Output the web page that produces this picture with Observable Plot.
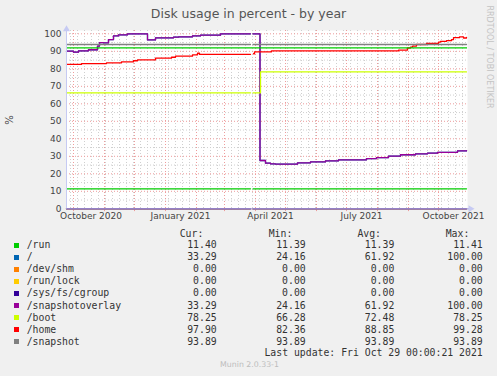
<!DOCTYPE html>
<html><head><meta charset="utf-8">
<script src="https://cdn.jsdelivr.net/npm/d3@7"></script>
<script src="https://cdn.jsdelivr.net/npm/@observablehq/plot@0.6"></script>
<style>
html,body{margin:0;padding:0;background:#f0f0f0;}
#wrap{position:relative;width:497px;height:376px;overflow:hidden;background:#f0f0f0;font-family:"DejaVu Sans";}
#wrap svg{position:absolute;left:0;top:0;}
.t{position:absolute;white-space:pre;}
.mono{font-family:"DejaVu Sans Mono";font-size:9.8px;line-height:12px;color:#333;}
</style></head><body><div id="wrap"></div>
<script>
// ---------- text ----------
const title = "Disk usage in percent - by year";
const yLabel = "%";
const sideNote = "RRDTOOL / TOBI OETIKER";
const footer = "Munin 2.0.33-1";
const lastUpdate = "Last update: Fri Oct 29 00:00:21 2021";
const headers = ["Cur:", "Min:", "Avg:", "Max:"];

// ---------- axes ----------
const xDomain = ["2020-09-24", "2021-10-30"];
const yTicks = [0, 10, 20, 30, 40, 50, 60, 70, 80, 90, 100];
const yMinorTicks = [5, 15, 25, 35, 45, 55, 65, 75, 85, 95];
const xTickDates = ["2020-10-18T12:00Z", "2021-01-16", "2021-04-16", "2021-07-16", "2021-10-16"];
const xTickLabels = ["October 2020", "January 2021", "April 2021", "July 2021", "October 2021"];
const warningLevel = 92;

// ---------- legend ----------
const names = ["/run", "/", "/dev/shm", "/run/lock", "/sys/fs/cgroup", "/snapshotoverlay", "/boot", "/home", "/snapshot"];
const colors = ["#00cc00", "#0066b3", "#ff8000", "#ffcc00", "#330099", "#990099", "#ccff00", "#ff0000", "#808080"];
const curValues = ["11.40", "33.29", "0.00", "0.00", "0.00", "33.29", "78.25", "97.90", "93.89"];
const minValues = ["11.39", "24.16", "0.00", "0.00", "0.00", "24.16", "66.28", "82.36", "93.89"];
const avgValues = ["11.39", "61.92", "0.00", "0.00", "0.00", "61.92", "72.48", "88.85", "93.89"];
const maxValues = ["11.41", "100.00", "0.00", "0.00", "0.00", "100.00", "78.25", "99.28", "93.89"];

// ---------- series (date, percent); null = no data ----------
const runSeries = [["2020-09-24", 11.4], ["2021-03-27", 11.39], ["2021-03-28", null], ["2021-03-29T12:00Z", 11.4], ["2021-10-29", 11.4]];
const overlaySeries = [
  ["2020-09-24", 90.1], ["2020-10-01", 89.5], ["2020-10-06", 90.3], ["2020-10-16", 90.9], ["2020-10-25", 93.0],
  ["2020-10-27", 95.0], ["2020-10-31", 94.8], ["2020-11-05", 96.7], ["2020-11-10", 98.8], ["2020-11-15", 99.4],
  ["2020-11-24", 100], ["2020-12-14", 96.5], ["2020-12-22", 97.7], ["2021-01-09", 98.1], ["2021-01-14", 98.3],
  ["2021-01-28", 98.8], ["2021-02-05", 99.2], ["2021-02-25", 100], ["2021-03-27", 100], ["2021-03-28", null],
  ["2021-03-29T12:00Z", 100], ["2021-04-05T12:00Z", 27.6], ["2021-04-11", 26.1], ["2021-04-16", 25.7],
  ["2021-04-21", 25.5], ["2021-05-13", 26.3], ["2021-05-26", 26.8], ["2021-06-10", 27.4], ["2021-06-23", 28.0],
  ["2021-07-21", 28.7], ["2021-07-31", 29.3], ["2021-08-12", 30.1], ["2021-08-24", 30.9], ["2021-09-08", 31.4],
  ["2021-09-20", 31.8], ["2021-09-30", 32.3], ["2021-10-20", 33.1], ["2021-10-29", 33.29]
];
const rootSeries = overlaySeries; // "/" reads identical to /snapshotoverlay
const shmSeries = [["2020-09-24", 0], ["2021-03-27", 0], ["2021-03-28", null], ["2021-03-29T12:00Z", 0], ["2021-10-29", 0]];
const lockSeries = [["2020-09-24", 0], ["2021-03-27", 0], ["2021-03-28", null], ["2021-03-29T12:00Z", 0], ["2021-10-29", 0]];
const cgroupSeries = [["2020-09-24", 0], ["2021-03-27", 0], ["2021-03-28", null], ["2021-03-29T12:00Z", 0], ["2021-10-29", 0]];
const bootSeries = [["2020-09-24", 66.28], ["2021-03-27", 66.28], ["2021-03-28", null], ["2021-03-29T12:00Z", 66.28], ["2021-04-06", 78.25], ["2021-10-29", 78.25]];
const homeSeries = [
  ["2020-09-24", 82.5], ["2020-10-09", 83.0], ["2020-11-03", 83.4], ["2020-11-18", 84.0], ["2020-11-30", 84.6],
  ["2020-12-04", 85.1], ["2020-12-22", 86.1], ["2021-01-07", 86.6], ["2021-01-11", 87.2], ["2021-01-28", 88.0],
  ["2021-02-02", 88.9], ["2021-02-04", 88.2], ["2021-03-27", 88.2], ["2021-03-28", null], ["2021-03-30", 88.6],
  ["2021-03-31", 89.7], ["2021-04-17", 90.2], ["2021-08-22", 90.7], ["2021-08-31", 91.9], ["2021-09-03", 92.4],
  ["2021-09-05", 93.0], ["2021-09-09", 93.9], ["2021-09-19", 94.5], ["2021-10-01", 95.3], ["2021-10-03", 95.7],
  ["2021-10-09", 96.1], ["2021-10-14", 96.7], ["2021-10-16", 97.8], ["2021-10-22", 98.3], ["2021-10-26", 97.6],
  ["2021-10-29", 97.9]
];
const snapshotSeries = [["2020-09-24", 93.89], ["2021-03-27", 93.89], ["2021-03-28", null], ["2021-03-29T12:00Z", 93.89], ["2021-10-29", 93.89]];

const allSeries = [runSeries, rootSeries, shmSeries, lockSeries, cgroupSeries, overlaySeries, bootSeries, homeSeries, snapshotSeries];

// ---------- build ----------
const x0 = new Date(xDomain[0]), x1 = new Date(xDomain[1]);
const toRows = s => s.map(([d, v]) => ({date: new Date(d), value: v == null ? NaN : v}));
const labelByTime = new Map(xTickDates.map((d, i) => [+new Date(d), xTickLabels[i]]));
const weeks = d3.utcMonday.range(x0, x1);
const months = d3.utcMonth.range(x0, x1);
const axisBlue = "#c6caf3";
const axisBottom = "#a59ee2";
const gridGray = "#cfcfcf";
const gridRed = "#ee9c9c";
const arrowX = d3.utcDay.offset(x1, 3);

const lineMarks = allSeries.map((s, i) =>
  Plot.line(toRows(s), {x: "date", y: "value", stroke: colors[i], strokeWidth: 1.3, curve: "step-after"}));

const chart = Plot.plot({
  width: 497, height: 376,
  marginLeft: 66, marginRight: 30, marginTop: 30, marginBottom: 167.7,
  x: {type: "utc", domain: [x0, x1]},
  y: {domain: [0, 101.9]},
  style: {background: "transparent", fontFamily: "DejaVu Sans", fontSize: "9px", color: "#444"},
  marks: [
    Plot.frame({fill: "white", stroke: null}),
    Plot.ruleY(yMinorTicks, {stroke: gridGray, strokeDasharray: "1,2"}),
    Plot.ruleX(weeks, {stroke: gridGray, strokeDasharray: "1,2"}),
    Plot.ruleY(yTicks, {stroke: gridRed, strokeDasharray: "1,2"}),
    Plot.ruleX(months, {stroke: gridRed, strokeDasharray: "1,2"}),
    Plot.ruleX(months, {y1: 0, y2: -1.6, stroke: gridRed}),
    ...lineMarks,
    Plot.ruleY([warningLevel], {stroke: "#00cc00", strokeWidth: 1.3}),
    Plot.ruleY([0], {x1: x0, x2: arrowX, stroke: axisBottom, strokeWidth: 1.3}),
    Plot.ruleX([x0], {y1: 0, y2: 102.6, stroke: axisBlue, strokeWidth: 1}),
    Plot.dot([x0], {x: d => d, y: [102.6], symbol: "triangle", r: 2.6, fill: axisBlue, stroke: null}),
    Plot.dot([arrowX], {x: d => d, y: [0], symbol: "triangle", r: 2.6, fill: axisBlue, stroke: null, rotate: 90}),
    Plot.axisY(yTicks, {tickSize: 0, tickPadding: 5, fontSize: 9, fill: "#444", label: null}),
    Plot.axisX(xTickDates.map(d => new Date(d)), {tickSize: 0, tickPadding: 3.5, fontSize: 9, fill: "#444", label: null,
      tickFormat: d => labelByTime.get(+d)})
  ]
});
const wrap = document.getElementById("wrap");
wrap.appendChild(chart);

// ---------- surrounding text ----------
function place(text, style, cls) {
  const el = document.createElement("div");
  el.className = "t " + (cls || "");
  el.textContent = text;
  Object.assign(el.style, style);
  wrap.appendChild(el);
  return el;
}
place(title, {left: "0px", width: "497px", textAlign: "center", top: "6.2px", fontSize: "12.5px", lineHeight: "15px", color: "#555"});
place(sideNote, {left: "488.5px", top: "56.5px", fontSize: "8px", lineHeight: "10px", color: "#c4c4c4",
  transform: "translate(-50%,-50%) rotate(90deg)"});
place(yLabel, {left: "10px", top: "120px", fontSize: "10px", lineHeight: "12px", color: "#444",
  transform: "translate(-50%,-50%) rotate(-90deg)"});

const headerRight = [203.3, 292.3, 381, 469.3];
const colRight = [216.7, 305.7, 394.3, 482.7];
const headerY = 234, rowY0 = 245, rowStep = 12.1;
headers.forEach((h, j) => place(h, {right: (497 - headerRight[j]) + "px", top: (headerY - 6) + "px"}, "mono"));
names.forEach((n, i) => {
  const cy = rowY0 + i * rowStep;
  const sq = document.createElement("div");
  Object.assign(sq.style, {position: "absolute", left: "14px", top: (cy - 2.5) + "px", width: "5.3px", height: "5px", background: colors[i]});
  wrap.appendChild(sq);
  place(n, {left: "26.7px", top: (cy - 6) + "px"}, "mono");
  [curValues, minValues, avgValues, maxValues].forEach((arr, j) =>
    place(arr[i], {right: (497 - colRight[j]) + "px", top: (cy - 6) + "px"}, "mono"));
});
place(lastUpdate, {right: (497 - 482.7) + "px", top: (353.3 - 6) + "px"}, "mono");
place(footer, {left: "0px", width: "497px", textAlign: "center", top: "360px", fontSize: "7.8px", lineHeight: "10px", color: "#bdbdbd", paddingLeft: "1px"});
</script></body></html>
